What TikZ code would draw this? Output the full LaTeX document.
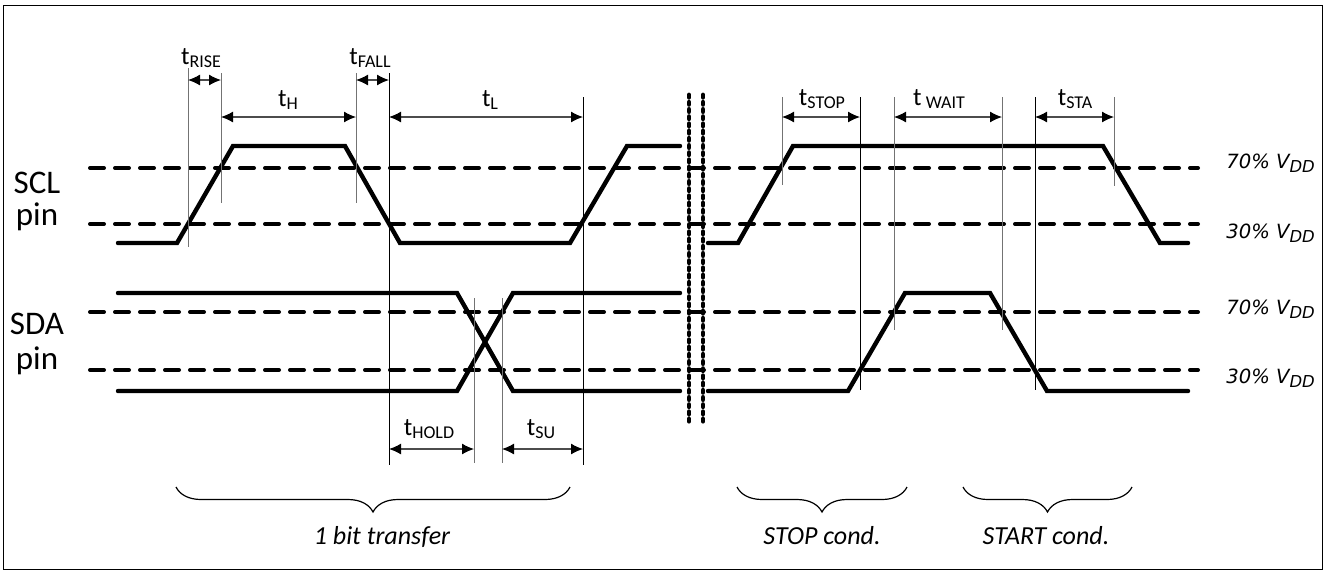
\documentclass[tikz,border=0pt]{standalone}
\usepackage{fontspec}
\setmainfont{Carlito}
\newfontfamily\dvfont{DejaVu Sans}
\usetikzlibrary{arrows.meta,decorations.pathreplacing}
\newcommand\tsb[1]{\raisebox{-1.8pt}{\fontsize{9}{10}\selectfont #1}}
\newcommand\vsb[1]{\raisebox{-2.3pt}{\fontsize{8.2}{9}\selectfont #1}}
\begin{document}
\begin{tikzpicture}[x=0.5pt,y=-0.5pt,
  sig/.style={line width=2.2pt, line join=miter, line cap=round},
  lvl/.style={line width=2pt, dash pattern=on 7pt off 5.5pt, line cap=round},
  brk/.style={line width=2.4pt, dash pattern=on 1.1pt off 2.5pt, line cap=round},
  glin/.style={draw=black!55, line width=0.5pt},
  blin/.style={draw=black, line width=0.5pt},
  dimarrow/.style={draw=black!70, line width=0.6pt, {Latex[length=6pt,width=5.5pt,black]}-{Latex[length=6pt,width=5.5pt,black]}},
  tlab/.style={font=\fontsize{12.6}{14}\selectfont, anchor=base, inner sep=0pt},
  vlab/.style={font=\dvfont\fontsize{9.8}{11}\selectfont\itshape, anchor=base west, inner sep=0pt},
  plab/.style={font=\fontsize{16.5}{19}\selectfont, anchor=base, inner sep=0pt},
  blab/.style={font=\fontsize{13}{15}\selectfont\itshape, anchor=base, inner sep=0pt},
  brc/.style={draw, line width=0.6pt, decorate, decoration={brace, amplitude=12.5pt}}
]
\useasboundingbox (0,0) rectangle (1328,575);
\draw[line width=0.5pt] (3.5,5.5) rectangle (1322.5,569.5);

% threshold levels
\foreach \yy in {168,224,312,370}
  \draw[lvl] (90,\yy) -- (1198,\yy);

% break marks
\draw[brk] (689,95) -- (689,426);
\draw[brk] (703,95) -- (703,426);

% SCL
\draw[sig] (118,243) -- (177,243) -- (233,146) -- (345,146) -- (400,243) -- (570,243) -- (627,146) -- (680,146);
\draw[sig] (708,243) -- (738,243) -- (793,146) -- (1103,146) -- (1160,243) -- (1188,243);
% SDA
\draw[sig] (118,293) -- (457,293) -- (513,391) -- (680,391);
\draw[sig] (118,391) -- (457,391) -- (513,293) -- (680,293);
\draw[sig] (708,391) -- (848,391) -- (905,293) -- (990,293) -- (1047,391) -- (1188,391);

% timing reference lines
\draw[glin] (188,68) -- (188,247);
\draw[glin] (221,73) -- (221,203);
\draw[glin] (356,73) -- (356,203);
\draw[blin] (389,73) -- (389,465);
\draw[blin] (583,97) -- (583,465);
\draw[glin] (474,298) -- (474,463);
\draw[glin] (502,298) -- (502,463);
\draw[glin] (782,97) -- (782,185);
\draw[blin] (860,97) -- (860,390);
\draw[glin] (894,97) -- (894,330);
\draw[glin] (1002,97) -- (1002,330);
\draw[blin] (1035,97) -- (1035,390);
\draw[glin] (1114,97) -- (1114,186);

% dimension arrows
\draw[dimarrow] (188,80) -- (221,80);
\draw[dimarrow] (356,80) -- (389,80);
\draw[dimarrow] (221,117) -- (356,117);
\draw[dimarrow] (389,117) -- (583,117);
\draw[dimarrow] (782,117) -- (860,117);
\draw[dimarrow] (894,117) -- (1002,117);
\draw[dimarrow] (1035,117) -- (1114,117);
\draw[dimarrow] (389,449) -- (474,449);
\draw[dimarrow] (502,449) -- (583,449);

% timing labels
\node[tlab] (trise) at (201,64) {t\tsb{RISE}};
\node[tlab] (tfall) at (370,64) {t\tsb{FALL}};
\node[tlab] (th) at (288,106) {t\tsb{H}};
\node[tlab] (tl) at (490,106) {t\tsb{L}};
\node[tlab] (tstop) at (822,105) {t\tsb{STOP}};
\node[tlab] (twait) at (939,105) {t\,\tsb{WAIT}};
\node[tlab] (tsta) at (1075,105) {t\tsb{STA}};
\node[tlab] (thold) at (429,435) {t\tsb{HOLD}};
\node[tlab] (tsu) at (541,435) {t\tsb{SU}};

% pin labels
\node[plab] (scl) at (37,193) {SCL};
\node[plab] (sclpin) at (37,225) {pin};
\node[plab] (sda) at (37,334) {SDA};
\node[plab] (sdapin) at (37,369) {pin};

% level labels
\node[vlab] (v1) at (1226,168) {70\% V\vsb{DD}};
\node[vlab] (v2) at (1226,238) {30\% V\vsb{DD}};
\node[vlab] (v3) at (1226,314) {70\% V\vsb{DD}};
\node[vlab] (v4) at (1226,383) {30\% V\vsb{DD}};

% braces
\draw[brc] (570,487) -- (176,487);
\draw[brc] (907,487) -- (737,487);
\draw[brc] (1132,487) -- (963,487);
\node[blab] (bit) at (382,544) {1 bit transfer};
\node[blab] (stop) at (822,544) {STOP cond.};
\node[blab] (start) at (1046,544) {START cond.};
\end{tikzpicture}
\end{document}
